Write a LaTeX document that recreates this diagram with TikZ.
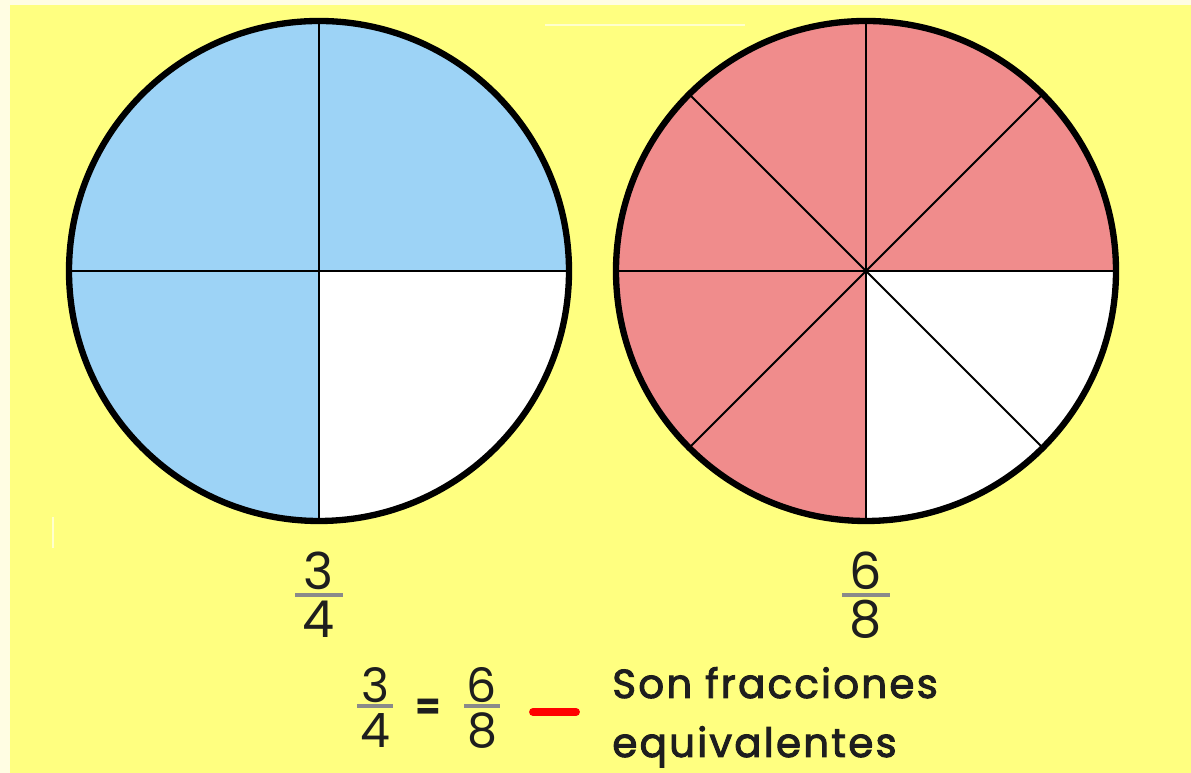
\documentclass[tikz,border=0pt]{standalone}
\usepackage{fontspec}
\setmainfont{Poppins}
\newfontfamily\captionfont[FakeBold=2.4, LetterSpace=5.5]{Poppins}
\definecolor{paper}{HTML}{FFFF80}
\definecolor{margin}{HTML}{FFFDE3}
\definecolor{quarter}{HTML}{9DD3F6}
\definecolor{eighth}{HTML}{F08C8C}
\definecolor{ink}{HTML}{1E1E1E}
\definecolor{bargray}{HTML}{8A8A8A}
\tikzset{
	rim/.style={line width=3.6pt},
	spoke/.style={line width=1.1pt},
	digit/.style={font=\fontsize{29}{30}\selectfont, text=ink, inner sep=0pt},
	smalldigit/.style={font=\fontsize{27}{28}\selectfont, text=ink, inner sep=0pt},
	fracbar/.style={bargray, line width=2.3pt},
	caption/.style={font=\captionfont\fontsize{23}{25}\selectfont, text=ink, anchor=base west, inner sep=0pt},
	glint/.style={white, opacity=0.6, line width=1.2pt}
}
\begin{document}
\begin{tikzpicture}[x=0.02cm, y=0.02cm]
	\fill[margin] (0,0) rectangle (1191,773);
	\fill[paper] (10,0) rectangle (1191,768);
	\draw[glint] (545,748) -- (745,748);
	\draw[glint] (53,256) -- (53,225);
	\coordinate (lc) at (319,502);
	\coordinate (rc) at (866,502);
	\fill[white] (lc) circle[radius=250];
	\fill[quarter] (lc) -- ++(0:250) arc[start angle=0, end angle=270, radius=250] -- cycle;
	\foreach \a in {0,90,180,270}
		\draw[spoke] (lc) -- ++(\a:250);
	\draw[rim] (lc) circle[radius=250];
	\fill[white] (rc) circle[radius=250];
	\fill[eighth] (rc) -- ++(0:250) arc[start angle=0, end angle=270, radius=250] -- cycle;
	\foreach \a in {0,45,...,315}
		\draw[spoke] (rc) -- ++(\a:250);
	\draw[rim] (rc) circle[radius=250];
	\node[digit] (lnum) at (319,202) {3};
	\draw[fracbar] (295,178) -- (343,178);
	\node[digit] (lden) at (319,154) {4};
	\node[digit] (rnum) at (866,202) {6};
	\draw[fracbar] (842,178) -- (890,178);
	\node[digit] (rden) at (866,154) {8};
	\node[smalldigit] (bnuma) at (375,88) {3};
	\draw[fracbar] (357,67) -- (393,67);
	\node[smalldigit] (bdena) at (375,42) {4};
	\node[smalldigit, font=\fontsize{21}{22}\selectfont\bfseries] (equals) at (428,64) {=};
	\node[smalldigit] (bnumb) at (482,88) {6};
	\draw[fracbar] (464,67) -- (500,67);
	\node[smalldigit] (bdenb) at (482,42) {8};
	\draw[red, line width=4.5pt, line cap=round] (533,61) -- (576,61);
	\node[caption] (son) at (612,75) {Son fracciones};
	\node[caption] (equiv) at (612,16) {equivalentes};
\end{tikzpicture}
\end{document}
